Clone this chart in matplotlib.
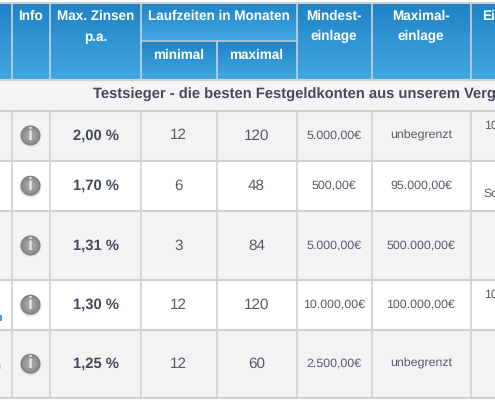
#!/usr/bin/env python3
import numpy as np
import matplotlib
matplotlib.use("Agg")
import matplotlib.pyplot as plt
from matplotlib.patches import Circle, Rectangle

plt.rcParams["font.family"] = ["Liberation Sans", "DejaVu Sans"]
plt.rcParams["text.hinting"] = "no_hinting"

W, H = 495, 400

# table content
zinsen = ["2,00 %", "1,70 %", "1,31 %", "1,30 %", "1,25 %"]
minimal = ["12", "6", "3", "12", "12"]
maximal = ["120", "48", "84", "120", "60"]
mindest = ["5.000,00€", "500,00€", "5.000,00€", "10.000,00€", "2.500,00€"]
maximal_einlage = ["unbegrenzt", "95.000,00€", "500.000,00€", "100.000,00€", "unbegrenzt"]
title_row = "Testsieger - die besten Festgeldkonten aus unserem Verg"

# layout in pixels
col_x = [11.5, 49.5, 141, 216.5, 296.5, 371.5, 470.5]
row_y = [110.5, 160.5, 211, 280, 329.5, 398]
row_bg = ["#f3f3f3", "#ffffff", "#f3f3f3", "#ffffff", "#f3f3f3"]
head_top, head_bottom, title_bottom = 2.5, 79.5, 110.5
sub_y = 40.5

GRID = "#d4d4d4"
HEAD_GRID = "#b9d0de"
TXT = "#545c69"
BOLD = "#424c5c"

fig = plt.figure(figsize=(W / 100, H / 100), dpi=100)
ax = fig.add_axes([0, 0, 1, 1])

# header gradient
grad = np.linspace(0, 1, 100)[:, None]
c1 = np.array([0x1f, 0x82, 0xc4]) / 255
c2 = np.array([0x42, 0xa8, 0xe2]) / 255
img = (c1 + (c2 - c1) * grad).reshape(100, 1, 3)
ax.imshow(img, extent=[0, W, head_bottom, head_top], aspect="auto", zorder=1)
ax.imshow(img, extent=[141, 296.5, sub_y, head_top], aspect="auto", zorder=1.1)
ax.imshow(img, extent=[141, 296.5, head_bottom, sub_y], aspect="auto", zorder=1.1)
ax.set_xlim(0, W)
ax.set_ylim(H, 0)
ax.axis("off")

# title row and body rows
ax.add_patch(Rectangle((0, head_bottom), W, title_bottom - head_bottom, fc="#f4f4f4", ec="none", zorder=1))
for i, bg in enumerate(row_bg):
    ax.add_patch(Rectangle((0, row_y[i]), W, row_y[i + 1] - row_y[i], fc=bg, ec="none", zorder=1))

# grid lines
for y in [head_top, head_bottom] + row_y:
    ax.plot([0, W], [y, y], color="#cfd2d4", lw=1.5, zorder=3, solid_capstyle="butt")
ax.plot([141, 296.5], [sub_y, sub_y], color=HEAD_GRID, lw=1.2, zorder=3)
for x in col_x:
    top = sub_y if x == 216.5 else head_top
    ax.plot([x, x], [top, head_bottom], color=HEAD_GRID, lw=1.3, zorder=3, solid_capstyle="butt")
    ax.plot([x, x], [row_y[0], row_y[-1]], color=GRID, lw=1.3, zorder=3, solid_capstyle="butt")

# header text
hdr = dict(color="white", fontweight="bold", fontsize=9.75, ha="center", va="center", zorder=5)
ax.text(30.5, 16, "Info", **hdr)
ax.text(95.5, 16, "Max. Zinsen", **hdr)
ax.text(95.5, 37, "p.a.", **hdr)
ax.text(218.5, 16, "Laufzeiten in Monaten", **hdr)
ax.text(178.5, 55, "minimal", **hdr)
ax.text(256.5, 55, "maximal", **hdr)
ax.text(334, 16, "Mindest-", **hdr)
ax.text(334, 36, "einlage", **hdr)
ax.text(421, 16, "Maximal-", **hdr)
ax.text(421, 36, "einlage", **hdr)
ax.text(482, 16, "Ei", color="white", fontweight="bold", fontsize=9.75, ha="left", va="center", zorder=5)

ax.text(93, 95, title_row, color=BOLD, fontweight="bold", fontsize=10.6, ha="left", va="center", zorder=5)

# body rows
centers = [(row_y[i] + row_y[i + 1]) / 2 for i in range(5)]
for i, yc in enumerate(centers):
    ax.add_patch(Circle((30.5, yc + 1), 11, fc="#e9e9e9", ec="none", zorder=4))
    for r, c in [(10, "#7d7d7d"), (9, "#8a8a8a"), (7.5, "#969696"), (5, "#a3a3a3")]:
        ax.add_patch(Circle((30.5, yc), r, fc=c, ec="none", zorder=4.1))
    ax.text(30.5, yc, "i", color="#e8e8e8", fontweight="bold", fontsize=13, ha="center", va="center", zorder=5)
    ax.text(95.5, yc, zinsen[i], color=BOLD, fontweight="bold", fontsize=10.6, ha="center", va="center", zorder=5)
    ax.text(178.5, yc, minimal[i], color=TXT, fontsize=11, ha="center", va="center", zorder=5)
    ax.text(256.5, yc, maximal[i], color=TXT, fontsize=11, ha="center", va="center", zorder=5)
    ax.text(334, yc, mindest[i], color=TXT, fontsize=8.9, ha="center", va="center", zorder=5)
    ax.text(421, yc, maximal_einlage[i], color=TXT, fontsize=8.9, ha="center", va="center", zorder=5)

# what is left of the cut off last column
ax.text(484, 126, "10", color=TXT, fontsize=8.9, ha="left", va="center", zorder=5)
ax.text(483, 194, "So", color=TXT, fontsize=8.9, ha="left", va="center", zorder=5)
ax.text(484, 295, "10", color=TXT, fontsize=8.9, ha="left", va="center", zorder=5)

# bits of the link text in the first column
ax.add_patch(Rectangle((0, 315), 2, 6, fc="#3aa9e6", ec="none", zorder=4))
ax.add_patch(Rectangle((0, 364), 1, 5, fc="#a9dcf5", ec="none", zorder=4))

fig.savefig("out.png", dpi=100)
